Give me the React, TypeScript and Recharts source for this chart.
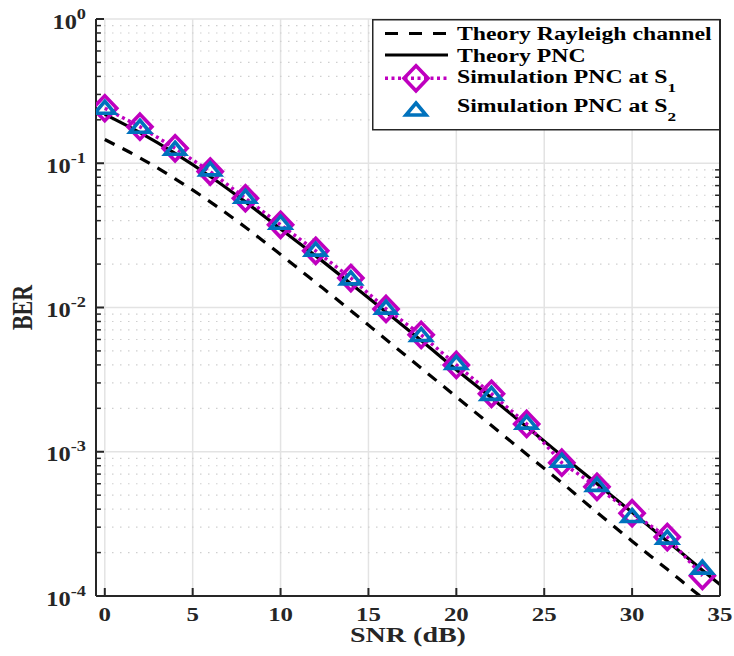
import React from "react";
import {
  LineChart,
  Line,
  XAxis,
  YAxis,
  CartesianGrid,
  ReferenceLine,
  Legend,
} from "recharts";

// SNR (dB) sample points
const snrTheory = [0, 2, 4, 6, 8, 10, 12, 14, 16, 18, 20, 22, 24, 26, 28, 30, 32, 34, 35];
const snrSim = [0, 2, 4, 6, 8, 10, 12, 14, 16, 18, 20, 22, 24, 26, 28, 30, 32, 34];

// BER curves
const berRayleigh = [
  0.146, 0.109, 0.078, 0.054, 0.036, 0.0233, 0.0149, 0.0095, 0.006, 0.0038, 0.0024,
  0.00152, 0.00096, 0.00061, 0.00038, 0.00024, 0.000153, 0.000097, 0.000078,
];
const berPncTheory = [
  0.218, 0.163, 0.117, 0.081, 0.054, 0.035, 0.0228, 0.0146, 0.0093, 0.0059, 0.0037,
  0.00236, 0.00149, 0.00094, 0.0006, 0.00038, 0.00024, 0.000151, 0.00012,
];
const berSimS1 = [
  0.2405, 0.1793, 0.127, 0.0875, 0.0572, 0.0374, 0.0247, 0.016, 0.00978, 0.00646, 0.004,
  0.00252, 0.00156, 0.00084, 0.000571, 0.000375, 0.000256, 0.000138,
];
const berSimS2 = [
  0.2405, 0.1776, 0.125, 0.0899, 0.0581, 0.0384, 0.025, 0.0158, 0.0099, 0.0064, 0.0041,
  0.0025, 0.00158, 0.00086, 0.000585, 0.000356, 0.000252, 0.000156,
];

// axis ticks
const xTicks = [0, 5, 10, 15, 20, 25, 30, 35];
const yTicks = [1e-4, 1e-3, 1e-2, 1e-1, 1];
const yMinor = [2, 3, 4, 5, 6, 7, 8, 9].flatMap((m) => [m * 1e-4, m * 1e-3, m * 1e-2, m * 1e-1]);

const legendLabels = ["Theory Rayleigh channel", "Theory PNC", "Simulation PNC at S", "Simulation PNC at S"];

const toPoints = (xs: number[], ys: number[]) => xs.map((x, i) => ({ snr: x, ber: ys[i] }));

const FONT = "'Liberation Serif', 'Times New Roman', serif";
const INK = "#262626";
const MAGENTA = "#BF00BF";
const BLUE = "#0072BD";

const Diamond = ({ cx, cy }: any) => (
  <polygon
    points={`${cx},${cy - 12.5} ${cx + 12},${cy} ${cx},${cy + 12.5} ${cx - 12},${cy}`}
    fill="none"
    stroke={MAGENTA}
    strokeWidth={3.6}
  />
);

const Triangle = ({ cx, cy }: any) => (
  <polygon
    points={`${cx},${cy - 7} ${cx + 10},${cy + 5} ${cx - 10},${cy + 5}`}
    fill="none"
    stroke={BLUE}
    strokeWidth={3.6}
  />
);

const XTick = ({ x, y, payload }: any) => (
  <g transform={`translate(${x},${y + 25}) scale(1.38,1)`}>
    <text textAnchor="middle" fontFamily={FONT} fontWeight="bold" fontSize={18} fill={INK}>
      {payload.value}
    </text>
  </g>
);

const YTick = ({ x, y, payload }: any) => {
  const exp = Math.round(Math.log10(payload.value));
  return (
    <g transform={`translate(${x},${y}) scale(1.22,1)`}>
      <text y={9.5} textAnchor="end" fontFamily={FONT} fontWeight="bold" fontSize={20} fill={INK}>
        <tspan>10</tspan>
        <tspan dy={-10} fontSize={15}>
          {String(exp)}
        </tspan>
      </text>
    </g>
  );
};

const XLabel = ({ viewBox }: any) => (
  <g transform={`translate(${viewBox.x + viewBox.width / 2},${viewBox.y + 46}) scale(1.4,1)`}>
    <text textAnchor="middle" fontFamily={FONT} fontWeight="bold" fontSize={20} fill={INK}>
      SNR (dB)
    </text>
  </g>
);

const YLabel = ({ viewBox }: any) => (
  <g transform={`translate(32,${viewBox.y + viewBox.height / 2}) scale(1.3,1) rotate(-90)`}>
    <text textAnchor="middle" fontFamily={FONT} fontWeight="bold" fontSize={22} fill={INK}>
      BER
    </text>
  </g>
);

const LegendBox = () => {
  const textRow = (label: string, baseline: number, sub?: string) => (
    <g transform={`translate(85,${baseline}) scale(1.32,1)`}>
      <text fontFamily={FONT} fontWeight="bold" fontSize={18} fill="#000">
        {label}
        {sub && (
          <tspan dy={9} fontSize={13}>
            {sub}
          </tspan>
        )}
      </text>
    </g>
  );
  return (
    <svg width={350} height={113} style={{ display: "block" }}>
      <rect x={0.75} y={0.75} width={347} height={110} fill="#fff" stroke={INK} strokeWidth={1.5} />
      <line x1={13} x2={76} y1={14.5} y2={14.5} stroke="#000" strokeWidth={3} strokeDasharray="13 11" />
      {textRow(legendLabels[0], 21)}
      <line x1={13} x2={76} y1={36} y2={36} stroke="#000" strokeWidth={3} />
      {textRow(legendLabels[1], 42.7)}
      <line x1={13} x2={76} y1={59.3} y2={59.3} stroke={MAGENTA} strokeWidth={3.5} strokeDasharray="3 3.5" />
      <Diamond cx={44} cy={59.3} />
      {textRow(legendLabels[2], 64, "1")}
      <Triangle cx={44} cy={91} />
      {textRow(legendLabels[3], 93, "2")}
    </svg>
  );
};

export default function App() {
  return (
    <div style={{ position: "absolute", left: 0, top: 0, background: "#fff" }}>
      <LineChart width={734} height={656} margin={{ top: 19, right: 0, bottom: 0, left: 0 }}>
        <CartesianGrid stroke="#e3e3e3" strokeWidth={1.5} />
        {yMinor.map((v) => (
          <ReferenceLine key={`g${v}`} y={v} stroke="#cfcfcf" strokeWidth={1.2} strokeDasharray="1.5 6.5" />
        ))}
        <XAxis
          dataKey="snr"
          type="number"
          domain={[-0.5, 35]}
          ticks={xTicks}
          allowDataOverflow
          height={60}
          tickSize={-8}
          tickMargin={8}
          tick={<XTick />}
          axisLine={{ stroke: INK, strokeWidth: 2 }}
          tickLine={{ stroke: INK, strokeWidth: 2 }}
          label={<XLabel />}
        />
        <XAxis
          xAxisId="top"
          orientation="top"
          dataKey="snr"
          type="number"
          domain={[-0.5, 35]}
          ticks={xTicks}
          allowDataOverflow
          height={0}
          tickSize={-8}
          tick={false}
          axisLine={{ stroke: INK, strokeWidth: 2 }}
          tickLine={{ stroke: INK, strokeWidth: 2 }}
        />
        <YAxis
          scale="log"
          type="number"
          domain={[1e-4, 1]}
          ticks={yTicks}
          allowDataOverflow
          width={96}
          tickSize={-8}
          tickMargin={18}
          tick={<YTick />}
          axisLine={{ stroke: INK, strokeWidth: 2 }}
          tickLine={{ stroke: INK, strokeWidth: 2 }}
          label={<YLabel />}
        />
        <YAxis
          yAxisId="right"
          orientation="right"
          scale="log"
          type="number"
          domain={[1e-4, 1]}
          ticks={yTicks}
          allowDataOverflow
          width={14}
          tickSize={-8}
          tick={false}
          axisLine={{ stroke: INK, strokeWidth: 2 }}
          tickLine={{ stroke: INK, strokeWidth: 2 }}
        />
        {yMinor.map((v) => (
          <ReferenceLine
            key={`l${v}`}
            segment={[
              { x: -0.5, y: v },
              { x: -0.22, y: v },
            ]}
            stroke={INK}
            strokeWidth={1.5}
          />
        ))}
        {yMinor.map((v) => (
          <ReferenceLine
            key={`r${v}`}
            segment={[
              { x: 34.72, y: v },
              { x: 35, y: v },
            ]}
            stroke={INK}
            strokeWidth={1.5}
          />
        ))}
        <Line
          data={toPoints(snrTheory, berRayleigh)}
          dataKey="ber"
          type="monotone"
          stroke="#000"
          strokeWidth={3.2}
          strokeDasharray="11 9"
          dot={false}
          isAnimationActive={false}
        />
        <Line
          data={toPoints(snrTheory, berPncTheory)}
          dataKey="ber"
          type="monotone"
          stroke="#000"
          strokeWidth={3.2}
          dot={false}
          isAnimationActive={false}
        />
        <Line
          data={toPoints(snrSim, berSimS1)}
          dataKey="ber"
          type="linear"
          stroke={MAGENTA}
          strokeWidth={3.5}
          strokeDasharray="3 3.5"
          dot={(p: any) => <Diamond key={`d${p.index}`} cx={p.cx} cy={p.cy} />}
          isAnimationActive={false}
        />
        <Line
          data={toPoints(snrSim, berSimS2)}
          dataKey="ber"
          type="linear"
          stroke="none"
          strokeWidth={0}
          dot={(p: any) => <Triangle key={`t${p.index}`} cx={p.cx} cy={p.cy} />}
          isAnimationActive={false}
        />
        <Legend
          layout="horizontal"
          verticalAlign="middle"
          align="center"
          content={<LegendBox />}
          wrapperStyle={{ left: 372, top: 19, bottom: "auto", width: 350, height: 113 }}
        />
      </LineChart>
    </div>
  );
}
